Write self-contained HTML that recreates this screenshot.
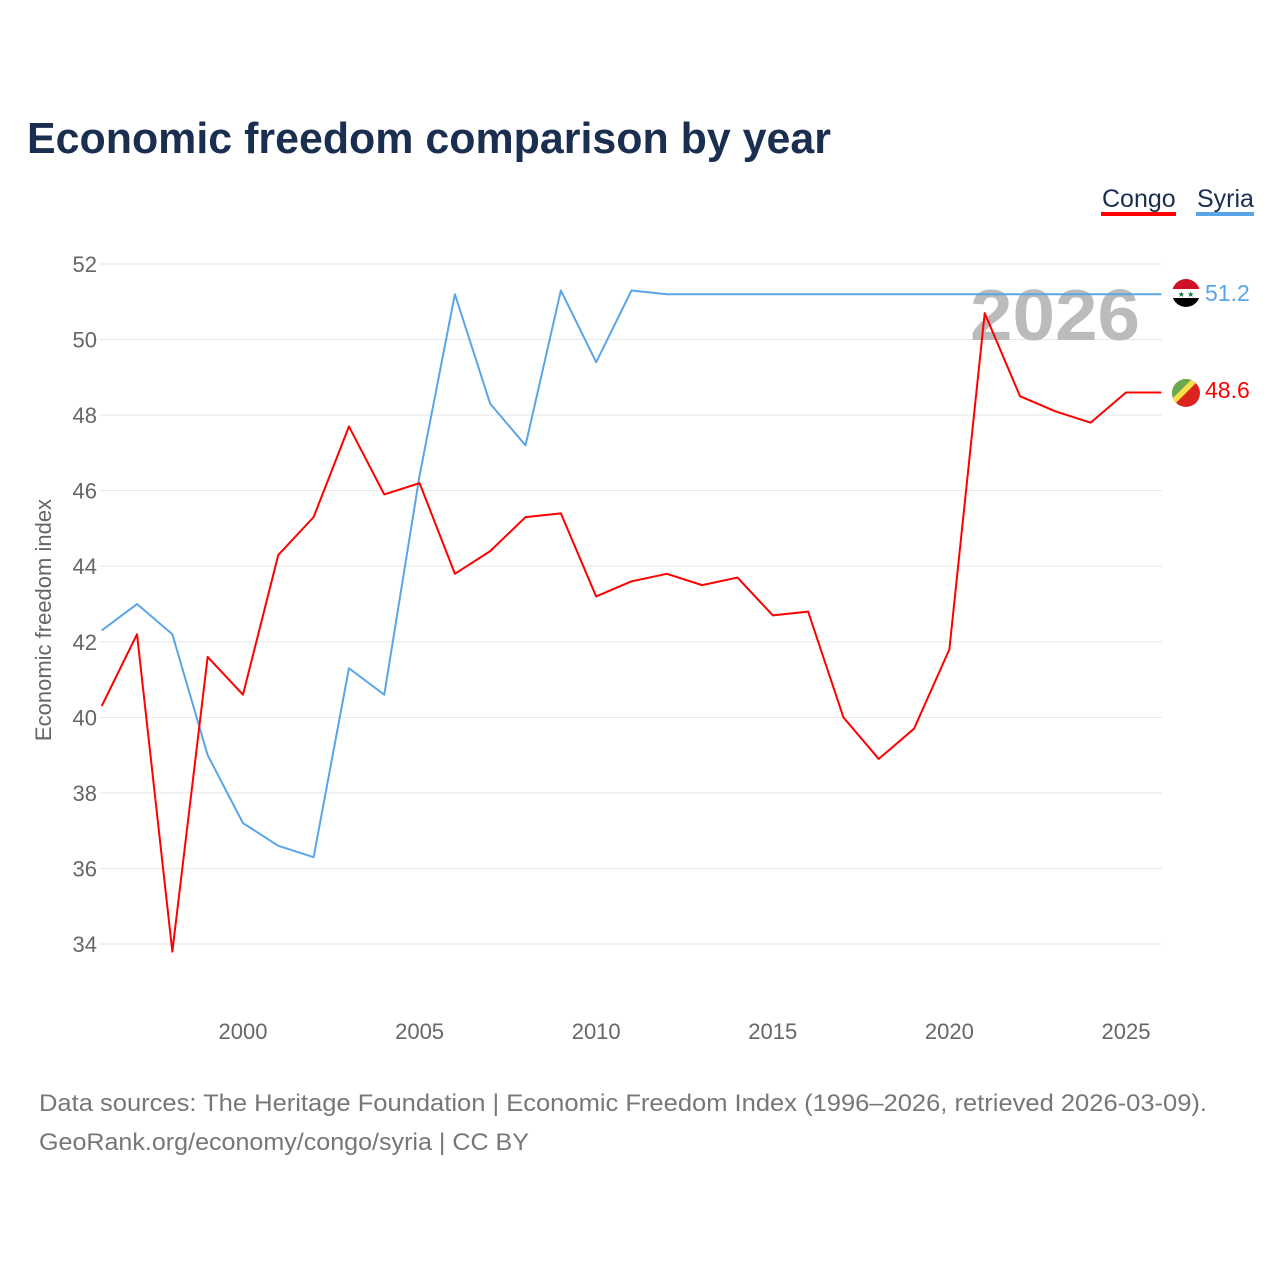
<!DOCTYPE html>
<html><head><meta charset="utf-8"><style>
body{margin:0;background:#fff;font-family:"Liberation Sans",sans-serif}
svg text{font-family:"Liberation Sans",sans-serif}
</style></head><body>
<svg id="c" width="1280" height="1280" viewBox="0 0 1280 1280">
<rect width="1280" height="1280" fill="#fff"/>
<text x="27" y="153" font-size="44" font-weight="bold" fill="#1a2e4f" textLength="804" lengthAdjust="spacingAndGlyphs">Economic freedom comparison by year</text>
<g>
<text x="1102" y="207" font-size="25" fill="#1a2e4f">Congo</text>
<rect x="1101" y="212" width="75" height="4" fill="#f00"/>
<text x="1197" y="207" font-size="25" fill="#1a2e4f">Syria</text>
<rect x="1196" y="212" width="58" height="4" fill="#5aa5e8"/>
</g>
<g id="grid"></g>
<text x="1055" y="340" font-size="72" font-weight="bold" fill="#bbb" text-anchor="middle" textLength="170" lengthAdjust="spacingAndGlyphs">2026</text>
<g id="lines"></g>
<text transform="translate(51,620) rotate(-90)" font-size="22" fill="#666" text-anchor="middle">Economic freedom index</text>
<g>
<clipPath id="f1"><circle cx="1186" cy="293" r="14"/></clipPath>
<g clip-path="url(#f1)"><rect x="1172" y="279" width="28" height="10" fill="#ce1126"/><rect x="1172" y="289" width="28" height="9" fill="#fff"/><rect x="1172" y="298" width="28" height="10" fill="#000"/></g>
<text x="1186" y="297" font-size="8" fill="#007a3d" text-anchor="middle">★ ★</text>
</g>
<g>
<clipPath id="f2"><circle cx="1186" cy="393" r="14"/></clipPath>
<g clip-path="url(#f2)"><rect x="1170" y="377" width="32" height="32" fill="#dc241f"/><polygon points="1172,379 1200,379 1172,407" fill="#fbde4a"/><polygon points="1172,379 1192,379 1172,399" fill="#6aa84f"/></g>
</g>
<text x="1205" y="301" font-size="23" fill="#5aa5e8">51.2</text>
<text x="1205" y="398" font-size="23" fill="#f00">48.6</text>
<text x="39" y="1111" font-size="24" fill="#777" textLength="1168" lengthAdjust="spacingAndGlyphs">Data sources: The Heritage Foundation | Economic Freedom Index (1996–2026, retrieved 2026-03-09).</text>
<text x="39" y="1150" font-size="24" fill="#777" textLength="490" lengthAdjust="spacingAndGlyphs">GeoRank.org/economy/congo/syria | CC BY</text>
</svg>
<script>
const years=[1996,1997,1998,1999,2000,2001,2002,2003,2004,2005,2006,2007,2008,2009,2010,2011,2012,2013,2014,2015,2016,2017,2018,2019,2020,2021,2022,2023,2024,2025,2026];
const congo=[40.3,42.2,33.8,41.6,40.6,44.3,45.3,47.7,45.9,46.2,43.8,44.4,45.3,45.4,43.2,43.6,43.8,43.5,43.7,42.7,42.8,40.0,38.9,39.7,41.8,50.7,48.5,48.1,47.8,48.6,48.6];
const syria=[42.3,43.0,42.2,39.0,37.2,36.6,36.3,41.3,40.6,46.4,51.2,48.3,47.2,51.3,49.4,51.3,51.2,51.2,51.2,51.2,51.2,51.2,51.2,51.2,51.2,51.2,51.2,51.2,51.2,51.2,51.2];
const yTicks=[34,36,38,40,42,44,46,48,50,52];
const xTicks=[2000,2005,2010,2015,2020,2025];
const NS='http://www.w3.org/2000/svg';
const X=v=>101.7+(v-1996)*35.32;
const Y=v=>264+(52-v)*37.78;
function mk(t,a,p){const e=document.createElementNS(NS,t);for(const k in a)e.setAttribute(k,a[k]);p.appendChild(e);return e;}
const g=document.getElementById('grid');
yTicks.forEach(t=>{
 const l=mk('line',{x1:100,x2:1162,y1:Y(t),y2:Y(t),stroke:'#e6e6e6','stroke-width':1},g);
 
 
 const tx=mk('text',{x:97,y:Y(t)+8,'font-size':22,fill:'#666','text-anchor':'end'},g);
 tx.textContent=t;
 
 
});
xTicks.forEach(t=>{
 const tx=mk('text',{x:X(t),y:1039,'font-size':22,fill:'#666','text-anchor':'middle'},g);
 tx.textContent=t;
 
 
});
const L=document.getElementById('lines');
function line(d,c,n){
 const p=mk('polyline',{points:d.map((v,i)=>X(years[i])+','+Y(v)).join(' '),fill:'none',stroke:c,'stroke-width':2,'stroke-linejoin':'round'},L);
 
 
}
line(syria,'#5aa5e8','syria-line');
line(congo,'#f00','congo-line');
</script>
</body></html>
